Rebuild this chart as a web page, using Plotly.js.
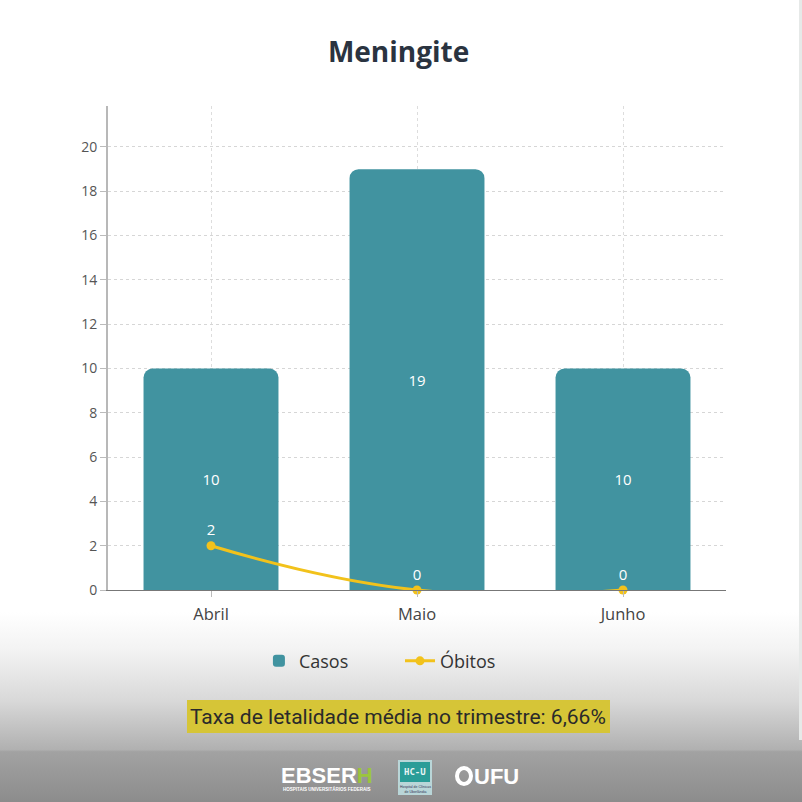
<!DOCTYPE html>
<html>
<head>
<meta charset="utf-8">
<script src="https://cdn.plot.ly/plotly-3.0.1.min.js"></script>
<style>
  html, body { margin:0; padding:0; width:802px; height:802px; overflow:hidden; }
  body {
    background: linear-gradient(to bottom, #ffffff 0px, #ffffff 612px, #f3f3f3 650px, #d9d9d9 700px, #b0b0b0 750px, #a5a5a5 751px, #a2a2a2 752px, #8c8c8c 802px);
  }
  #chart { width:802px; height:802px; }
  #strip { position:absolute; left:799px; top:0; width:3px; height:740px; background:#e6e9e8; }
</style>
</head>
<body>
<div id="strip"></div>
<div id="chart"></div>
<script>
const categories = ["Abril", "Maio", "Junho"];
const casos = [10, 19, 10];
const obitos = [2, 0, 0];
const chartTitle = "Meningite";
const seriesNames = ["Casos", "Óbitos"];
const footnote = "Taxa de letalidade média no trimestre: 6,66%";

const FONT = "'Open Sans', 'Noto Sans', sans-serif";
const GAP = "\u00a0\u00a0\u00a0\u00a0\u00a0\u00a0\u00a0\u00a0\u00a0\u00a0";

const traces = [
  {
    type: "bar",
    name: seriesNames[0] + GAP,
    x: categories,
    y: casos,
    marker: { color: "#4193a0", line: { width: 0 } },
    width: 0.655,
    text: casos.map(String),
    textposition: "inside",
    insidetextanchor: "middle",
    textfont: { color: "#ffffff", size: 15, family: FONT },
    hoverinfo: "skip"
  },
  {
    type: "scatter",
    mode: "lines+markers+text",
    name: seriesNames[1],
    x: categories,
    y: obitos,
    line: { color: "#f2c21b", width: 3, shape: "spline", smoothing: 1.3 },
    marker: { color: "#f2c21b", size: 9 },
    text: obitos.map(String),
    textposition: "top center",
    textfont: { color: "#ffffff", size: 15, family: FONT },
    cliponaxis: false,
    hoverinfo: "skip"
  }
];

const layout = {
  width: 802, height: 802,
  margin: { l: 108, r: 76, t: 106, b: 212 },
  paper_bgcolor: "rgba(0,0,0,0)",
  plot_bgcolor: "rgba(0,0,0,0)",
  barcornerradius: 9,
  font: { family: FONT, color: "#444" },
  title: {
    text: "<b>" + chartTitle + "</b>",
    font: { family: FONT, size: 28, color: "#2a3340" },
    x: 0.497, xanchor: "center", y: 0.935, yanchor: "middle"
  },
  showlegend: true,
  legend: {
    orientation: "h", x: 0.44, xanchor: "center", y: -0.147, yanchor: "middle",
    font: { family: FONT, size: 18, color: "#333" },
    itemwidth: 30, tracegroupgap: 0,
    bgcolor: "rgba(0,0,0,0)"
  },
  xaxis: {
    type: "category",
    range: [-0.5, 2.5],
    showgrid: true, gridcolor: "#dddddd", griddash: "dot", gridwidth: 1,
    showline: true, linecolor: "#777", linewidth: 1,
    ticks: "outside", ticklen: 6, tickcolor: "#bbb",
    ticklabelstandoff: 3,
    tickfont: { family: FONT, size: 16.5, color: "#444" },
    zeroline: false, fixedrange: true
  },
  yaxis: {
    range: [0, 21.85],
    tickvals: [0, 2, 4, 6, 8, 10, 12, 14, 16, 18, 20],
    showgrid: true, gridcolor: "#d6d6d6", griddash: "dot", gridwidth: 1,
    showline: true, linecolor: "#b8b8b8", linewidth: 2,
    ticks: "outside", ticklen: 6, tickcolor: "#bbb",
    tickfont: { family: FONT, size: 14, color: "#555" },
    zeroline: false, fixedrange: true
  },
  shapes: [
    { type: "rect", xref: "paper", yref: "paper",
      x0: (187-108)/618, x1: (610-108)/618, y0: (590-733)/484, y1: (590-700)/484,
      fillcolor: "#d6c537", line: { width: 0 }, layer: "below" },
    { type: "rect", xref: "paper", yref: "paper",
      x0: (398-108)/618, x1: (432-108)/618, y0: (590-795)/484, y1: (590-760)/484,
      fillcolor: "#b9d6d8", line: { width: 0 } },
    { type: "rect", xref: "paper", yref: "paper",
      x0: (400-108)/618, x1: (430-108)/618, y0: (590-782)/484, y1: (590-762)/484,
      fillcolor: "#2a9d98", line: { width: 0 } },
    { type: "circle", xref: "paper", yref: "paper",
      x0: (457-108)/618, x1: (471-108)/618, y0: (590-784)/484, y1: (590-768)/484,
      fillcolor: "rgba(0,0,0,0)", line: { width: 4, color: "#ffffff" } }
  ],
  annotations: [
    { text: footnote, xref: "paper", yref: "paper",
      x: (398-108)/618, y: (590-717)/484, xanchor: "center", yanchor: "middle",
      showarrow: false,
      font: { family: "Roboto, sans-serif", size: 21, color: "#2a2a2a" } },
    { text: "<b>EBSER<span style='color:#9bc53d'>H</span></b>", xref: "paper", yref: "paper",
      x: (327-108)/618, y: (590-775)/484, xanchor: "center", yanchor: "middle",
      showarrow: false, font: { family: "'Liberation Sans', Arial, sans-serif", size: 22, color: "#ffffff" } },
    { text: "<b>HOSPITAIS UNIVERSITÁRIOS FEDERAIS</b>", xref: "paper", yref: "paper",
      x: (326-108)/618, y: (590-789)/484, xanchor: "center", yanchor: "middle",
      showarrow: false, font: { family: "'Liberation Sans', Arial, sans-serif", size: 4.5, color: "#ffffff" } },
    { text: "<b>HC-U</b>", xref: "paper", yref: "paper",
      x: (415-108)/618, y: (590-772)/484, xanchor: "center", yanchor: "middle",
      showarrow: false, font: { family: "'DejaVu Sans Mono', monospace", size: 9, color: "#e8f4f4" } },
    { text: "Hospital de Clínicas<br>de Uberlândia", xref: "paper", yref: "paper",
      x: (415-108)/618, y: (590-789)/484, xanchor: "center", yanchor: "middle",
      showarrow: false, font: { family: "'Liberation Sans', Arial, sans-serif", size: 3.5, color: "#335" } },
    { text: "<b>UFU</b>", xref: "paper", yref: "paper",
      x: (496-108)/618, y: (590-776)/484, xanchor: "center", yanchor: "middle",
      showarrow: false, font: { family: "'Liberation Sans', Arial, sans-serif", size: 22, color: "#ffffff" } }
  ]
};

Plotly.newPlot("chart", traces, layout, { displayModeBar: false, staticPlot: true });
</script>
</body>
</html>
